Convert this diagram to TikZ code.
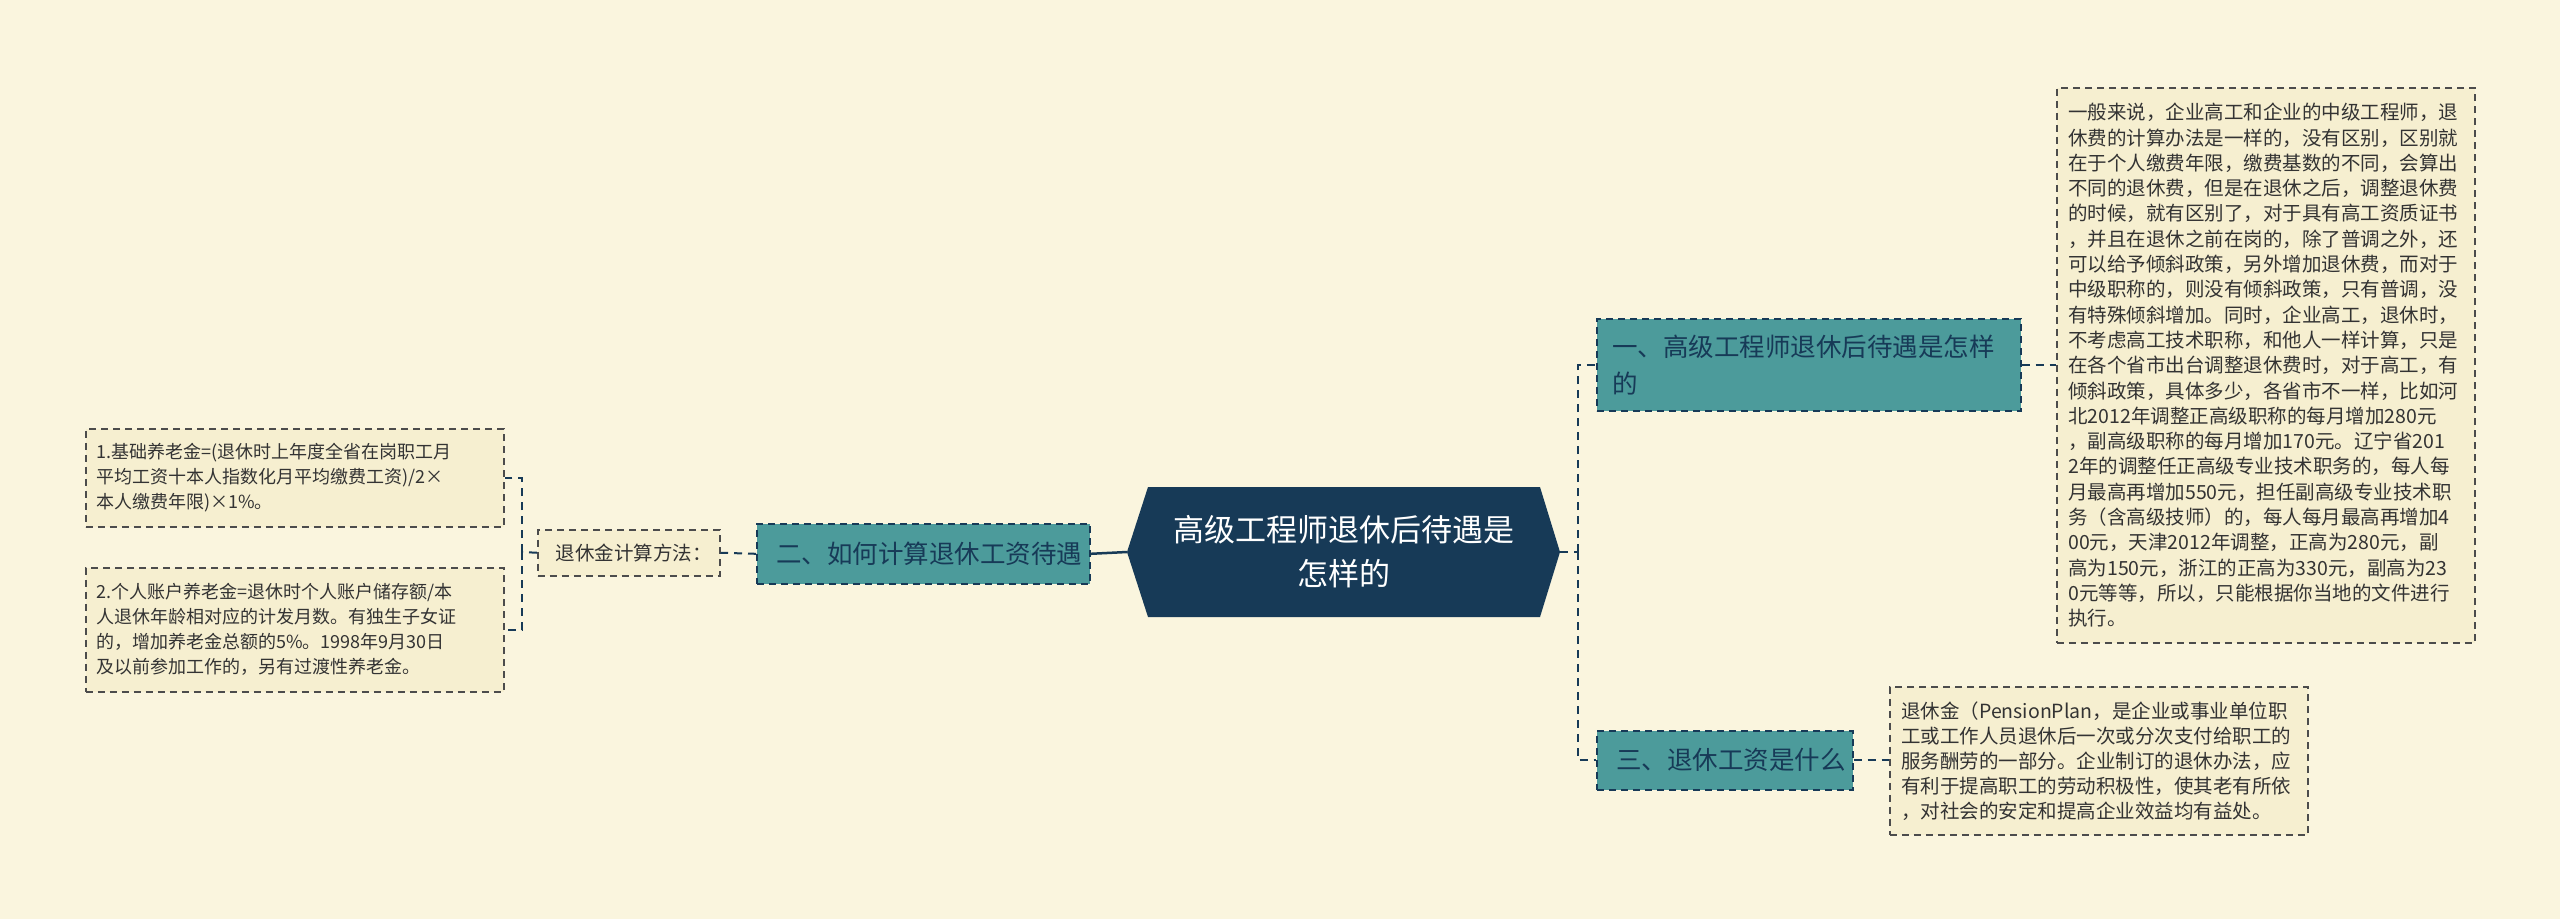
\documentclass[tikz,border=0pt]{standalone}
\usepackage{fontspec}
\setmainfont{Noto Sans CJK SC}
\begin{document}
\begin{tikzpicture}[x=1pt,y=-1pt,
  leaf/.style={draw=black!70,dash pattern=on 7pt off 5pt,fill=leafc,line width=1.5pt,align=left,inner sep=0pt,anchor=north west,font=\fontsize{18}{25}\selectfont,text=black!80},
  sub/.style={draw=navy,dash pattern=on 7pt off 5pt,fill=tealc,line width=1.6pt,align=left,inner sep=0pt,anchor=north west,font=\fontsize{25.5}{37}\selectfont,text=navy},
  conn/.style={draw=navy,dash pattern=on 8pt off 6pt,line width=2pt}]
\definecolor{bgc}{HTML}{FAF5DE}
\definecolor{leafc}{HTML}{F6EFD0}
\definecolor{tealc}{HTML}{4C9B9B}
\definecolor{navy}{HTML}{173A57}
\fill[bgc] (0,0) rectangle (2560,919);
\useasboundingbox (0,0) rectangle (2560,919);
% center
\node (c) [minimum width=433,minimum height=130] at (1343.5,552) {};
\fill[navy] (1148,487) -- (1540,487) -- (1560,552) -- (1540,617) -- (1148,617) -- (1127,552) -- cycle;
\node[align=center,text=white,font=\fontsize{31}{44}\selectfont] at (1343.5,552) {高级工程师退休后待遇是\\怎样的};
% subs
\node (n1) [sub,minimum width=424,minimum height=92] at (1596,318) {\hspace*{12pt}\parbox{405pt}{一、高级工程师退休后待遇是怎样\\的}};
\node (n3) [sub,minimum width=256,minimum height=59] at (1596,730) {\hspace*{12pt}\raisebox{-1pt}{三、退休工资是什么}};
\node (n2) [sub,minimum width=333,minimum height=60] at (756,523) {\hspace*{12pt}\raisebox{-1pt}{二、如何计算退休工资待遇}};
\node (m) [leaf,minimum width=182,minimum height=46,font=\fontsize{19.5}{24}\selectfont] at (537,529) {\hspace*{10pt}退休金计算方法：};
% leaves
\node (l1) [leaf,minimum width=418,minimum height=98] at (85,428) {\hspace*{8pt}\parbox{405pt}{1.基础养老金=(退休时上年度全省在岗职工月\\平均工资十本人指数化月平均缴费工资)/2×\\本人缴费年限)×1\%。}};
\node (l2) [leaf,minimum width=418,minimum height=124] at (85,567) {\hspace*{8pt}\parbox{405pt}{2.个人账户养老金=退休时个人账户储存额/本\\人退休年龄相对应的计发月数。有独生子女证\\的，增加养老金总额的5\%。1998年9月30日\\及以前参加工作的，另有过渡性养老金。}};
\node (r1) [leaf,minimum width=418,minimum height=555,font=\fontsize{19.5}{25.3}\selectfont] at (2056,87) {\hspace*{10pt}\parbox{405pt}{一般来说，企业高工和企业的中级工程师，退\\休费的计算办法是一样的，没有区别，区别就\\在于个人缴费年限，缴费基数的不同，会算出\\不同的退休费，但是在退休之后，调整退休费\\的时候，就有区别了，对于具有高工资质证书\\，并且在退休之前在岗的，除了普调之外，还\\可以给予倾斜政策，另外增加退休费，而对于\\中级职称的，则没有倾斜政策，只有普调，没\\有特殊倾斜增加。同时，企业高工，退休时，\\不考虑高工技术职称，和他人一样计算，只是\\在各个省市出台调整退休费时，对于高工，有\\倾斜政策，具体多少，各省市不一样，比如河\\北2012年调整正高级职称的每月增加280元\\，副高级职称的每月增加170元。辽宁省201\\2年的调整任正高级专业技术职务的，每人每\\月最高再增加550元，担任副高级专业技术职\\务（含高级技师）的，每人每月最高再增加4\\00元，天津2012年调整，正高为280元，副\\高为150元，浙江的正高为330元，副高为23\\0元等等，所以，只能根据你当地的文件进行\\执行。}};
\node (r3) [leaf,minimum width=418,minimum height=148,font=\fontsize{19.5}{25}\selectfont] at (1889,686) {\hspace*{10pt}\parbox{405pt}{退休金（PensionPlan，是企业或事业单位职\\工或工作人员退休后一次或分次支付给职工的\\服务酬劳的一部分。企业制订的退休办法，应\\有利于提高职工的劳动积极性，使其老有所依\\，对社会的安定和提高企业效益均有益处。}};
% connectors
\coordinate (jr) at (1578,552);
\draw[conn] (1560,552) -- (jr);
\draw[conn] (jr) |- (n1.west);
\draw[conn] (jr) |- (n3.west);
\draw[conn] (n1.east) -- (r1.west |- n1.east);
\draw[conn] (n3.east) -- (r3.west |- n3.east);
\draw[navy,line width=2.5pt] (1127,552) -- (n2.east);
\draw[conn] (n2.west) -- (m.east);
\coordinate (jl) at (522,552);
\draw[conn] (m.west) -- (jl);
\draw[conn] (jl) |- (l1.east);
\draw[conn] (jl) |- (l2.east);
\end{tikzpicture}
\end{document}
